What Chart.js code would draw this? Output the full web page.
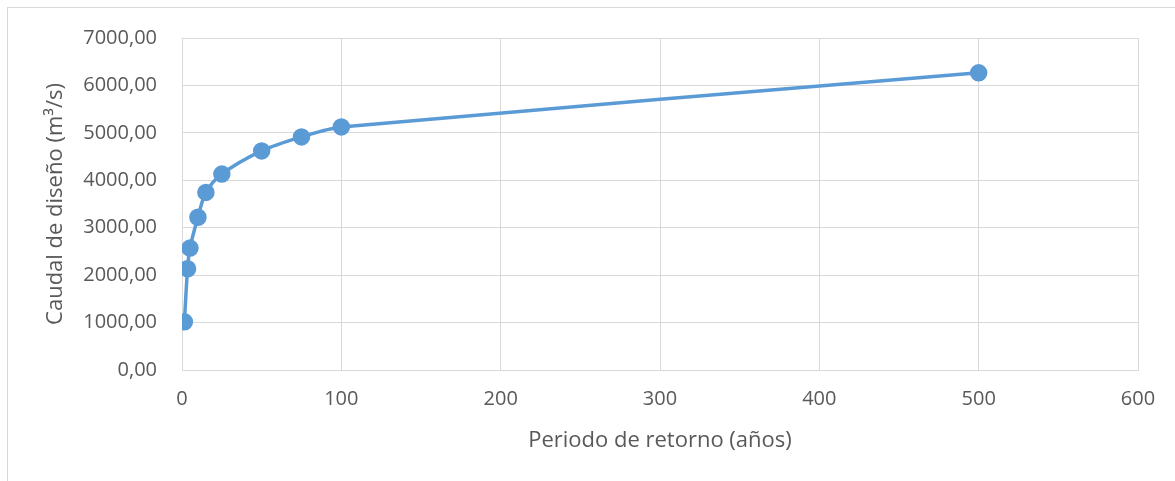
<!DOCTYPE html>
<html>
<head>
<meta charset="utf-8">
<script src="https://cdn.jsdelivr.net/npm/chart.js@4"></script>
<style>
  body { margin: 0; background: #fff; }
  #frame { position: absolute; left: 7px; top: 7px; width: 1200px; height: 500px;
           border-left: 1px solid #d9d9d9; border-top: 1px solid #d9d9d9; }
  #wrap { position: absolute; left: 0; top: 0; width: 1175px; height: 481px; }
</style>
</head>
<body>
<div id="frame"></div>
<div id="wrap"><canvas id="caudal__chart"></canvas></div>
<script>
// return period (years) vs design flow (m3/s)
const periodos = [1.5, 3.5, 5, 10, 15, 25, 50, 75, 100, 500];
const caudales = [1015, 2135, 2570, 3220, 3745, 4130, 4620, 4915, 5125, 6265];

const xTicks = [0, 100, 200, 300, 400, 500, 600];
const yTicks = [0, 1000, 2000, 3000, 4000, 5000, 6000, 7000];

const puntos = periodos.map((p, i) => ({ x: p, y: caudales[i] }));

const azul = '#5b9bd5';
const gris = '#595959';
const rejilla = '#d9d9d9';

const data = {
  datasets: [{
    label: 'Caudal de diseño',
    data: puntos,
    showLine: true,
    borderColor: azul,
    backgroundColor: azul,
    borderWidth: 3.5,
    pointRadius: 7,
    pointHoverRadius: 7,
    tension: 0.3
  }]
};

const config = {
  type: 'scatter',
  data,
  options: {
    responsive: true,
    maintainAspectRatio: false,
    animation: false,
    layout: { padding: { left: 20, top: 38, right: 37, bottom: 0 } },
    plugins: {
      legend: { display: false },
      tooltip: { enabled: false }
    },
    scales: {
      x: {
        type: 'linear',
        min: 0,
        max: 600,
        afterBuildTicks: (s) => { s.ticks = xTicks.map(v => ({ value: v })); },
        afterFit: (s) => { s.height = 111; },
        grid: { color: rejilla, drawTicks: false },
        border: { color: rejilla },
        ticks: {
          color: gris,
          padding: 17,
          maxRotation: 0,
          font: { family: 'Open Sans', size: 20 }
        },
        title: {
          display: true,
          text: 'Periodo de retorno (años)',
          color: gris,
          font: { family: 'Open Sans', size: 22 },
          padding: { top: 0, bottom: 27 }
        }
      },
      y: {
        min: 0,
        max: 7000,
        afterBuildTicks: (s) => { s.ticks = yTicks.map(v => ({ value: v })); },
        afterFit: (s) => { s.width = 162; },
        grid: { color: rejilla, drawTicks: false },
        border: { color: rejilla },
        ticks: {
          color: gris,
          padding: 25,
          font: { family: 'Open Sans', size: 20 },
          callback: (v) => v.toFixed(2).replace('.', ',')
        },
        title: {
          display: true,
          text: 'Caudal de diseño (m³/s)',
          color: gris,
          font: { family: 'Open Sans', size: 22 },
          padding: { top: 23, bottom: 0 }
        }
      }
    }
  }
};

var caudalChart = new Chart(
  document.getElementById('caudal__chart'),
  config
);
</script>
</body>
</html>
